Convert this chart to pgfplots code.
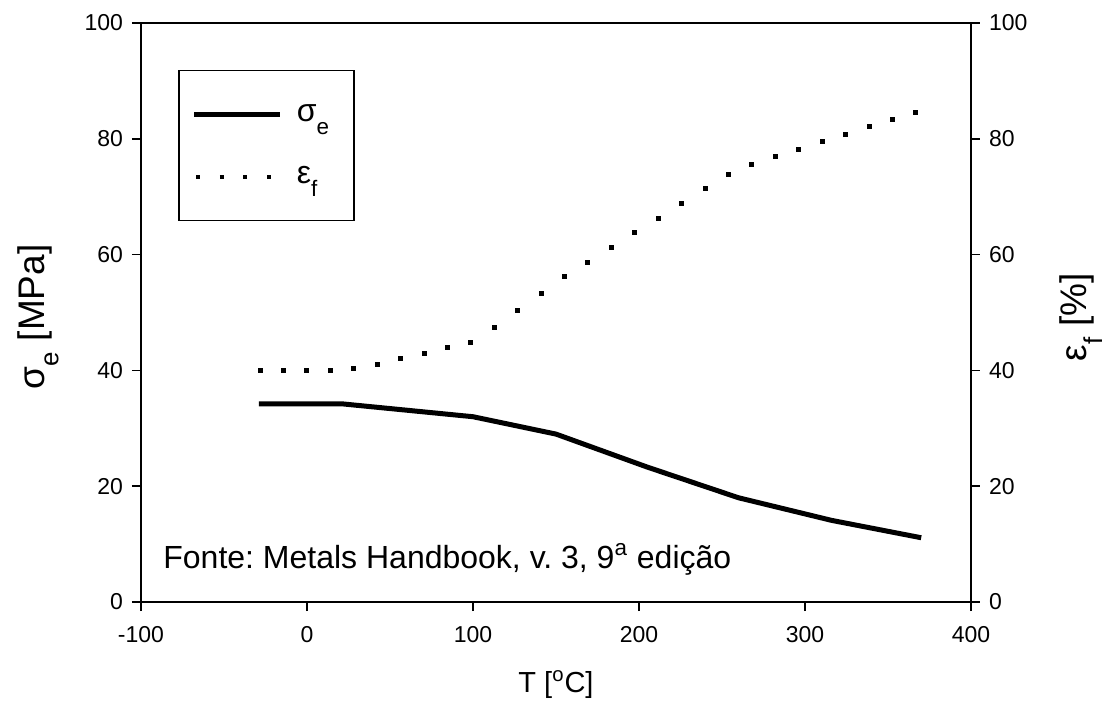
\documentclass[border=0pt]{standalone}
\usepackage{pgfplots}
\pgfplotsset{compat=1.18}
\usepackage{fontspec}
\setmainfont{Liberation Sans}
\frenchspacing
\newcommand{\sub}[1]{\raisebox{-0.45ex}{\textsubscript{#1}}}

\begin{document}
\begin{tikzpicture}
\pgfplotsset{
  common/.style={
    scale only axis, width=415pt, height=289.5pt,
    xmin=-100, xmax=400, ymin=0, ymax=100,
    tick align=outside, major tick length=4.5pt,
    axis line style={line width=0.75pt},
    every tick/.style={line width=0.75pt, black},
    ticklabel style={font=\fontsize{11.5}{12}\selectfont},
    /pgf/number format/assume math mode=true,
    ytick={0,20,...,100},
  },
}
\begin{axis}[common,
  xtick={-100,0,...,400}, xtick pos=bottom, ytick pos=left,
  xticklabel style={yshift=-4pt},
  yticklabel style={xshift=-1pt},
  xlabel={T [\textsuperscript{o}C]},
  xlabel style={font=\fontsize{14.5}{14.5}\selectfont, at={(axis description cs:0.5,0)}, anchor=base, yshift=-45pt},
  ylabel={σ\sub{e} [MPa]},
  ylabel style={font=\fontsize{18.5}{19}\selectfont, at={(axis description cs:-0.124,0.492)}, anchor=center},
  legend cell align=left,
  legend style={at={(rel axis cs:0.0446,0.919)}, anchor=north west,
    draw=black, line width=0.75pt, inner xsep=6.5pt, inner ysep=6.5pt,
    row sep=0pt, font=\fontsize{16}{16}\selectfont,
    nodes={inner sep=0pt, minimum height=31pt, text width=22pt},
    /tikz/every odd column/.append style={column sep=7pt}},
]
\addplot[line width=2.5pt, black,
  legend image code/.code={\draw[line width=2.5pt] (0pt,0pt) -- (43pt,0pt);}]
  coordinates {(-29,34.2) (22,34.2) (100,32) (150,29) (205,23.3) (260,18) (316,14.1) (370,11.1)};
\addlegendentry{σ\sub{e}}
\addlegendimage{legend image code/.code={\draw[line width=2pt, dash pattern=on 2pt off 9.8pt] (1pt,0pt) -- (43pt,0pt);}}
\addlegendentry{ε\sub{f}}
\node[anchor=base west, inner sep=0pt, font=\fontsize{16}{16}\selectfont] at (rel axis cs:0.0265,0.0587)
  {Fonte: Metals Handbook, v. 3, 9\textsuperscript{a} edição};
\end{axis}
\begin{axis}[common,
  axis x line=none, axis y line*=right, ytick pos=right,
  yticklabel style={xshift=1pt},
  ylabel={ε\sub{f} [\%]},
  ylabel style={font=\fontsize{18.5}{19}\selectfont, at={(axis description cs:1.1325,0.492)}, anchor=center, rotate=0},
]
\addplot[only marks, mark=square*, mark size=1pt, black] coordinates {
  (-28.3,40.0) (-14.2,40.0) (-0.1,40.0) (14.0,40.0) (28.1,40.3) (42.3,41.1)
  (56.4,42.0) (70.5,42.9) (84.6,43.9) (98.7,44.9) (112.8,47.5) (126.9,50.4)
  (141.0,53.3) (155.1,56.2) (169.2,58.7) (183.4,61.3) (197.5,63.8) (211.6,66.3)
  (225.7,68.9) (239.8,71.4) (253.9,73.9) (268.0,75.6) (282.1,77.0) (296.2,78.1)
  (310.3,79.5) (324.5,80.8) (338.6,82.1) (352.7,83.3) (366.8,84.6)};
\end{axis}
\pgfresetboundingbox
\path (-70.5pt,-50.5pt) rectangle (484pt,301pt);
\end{tikzpicture}
\end{document}
